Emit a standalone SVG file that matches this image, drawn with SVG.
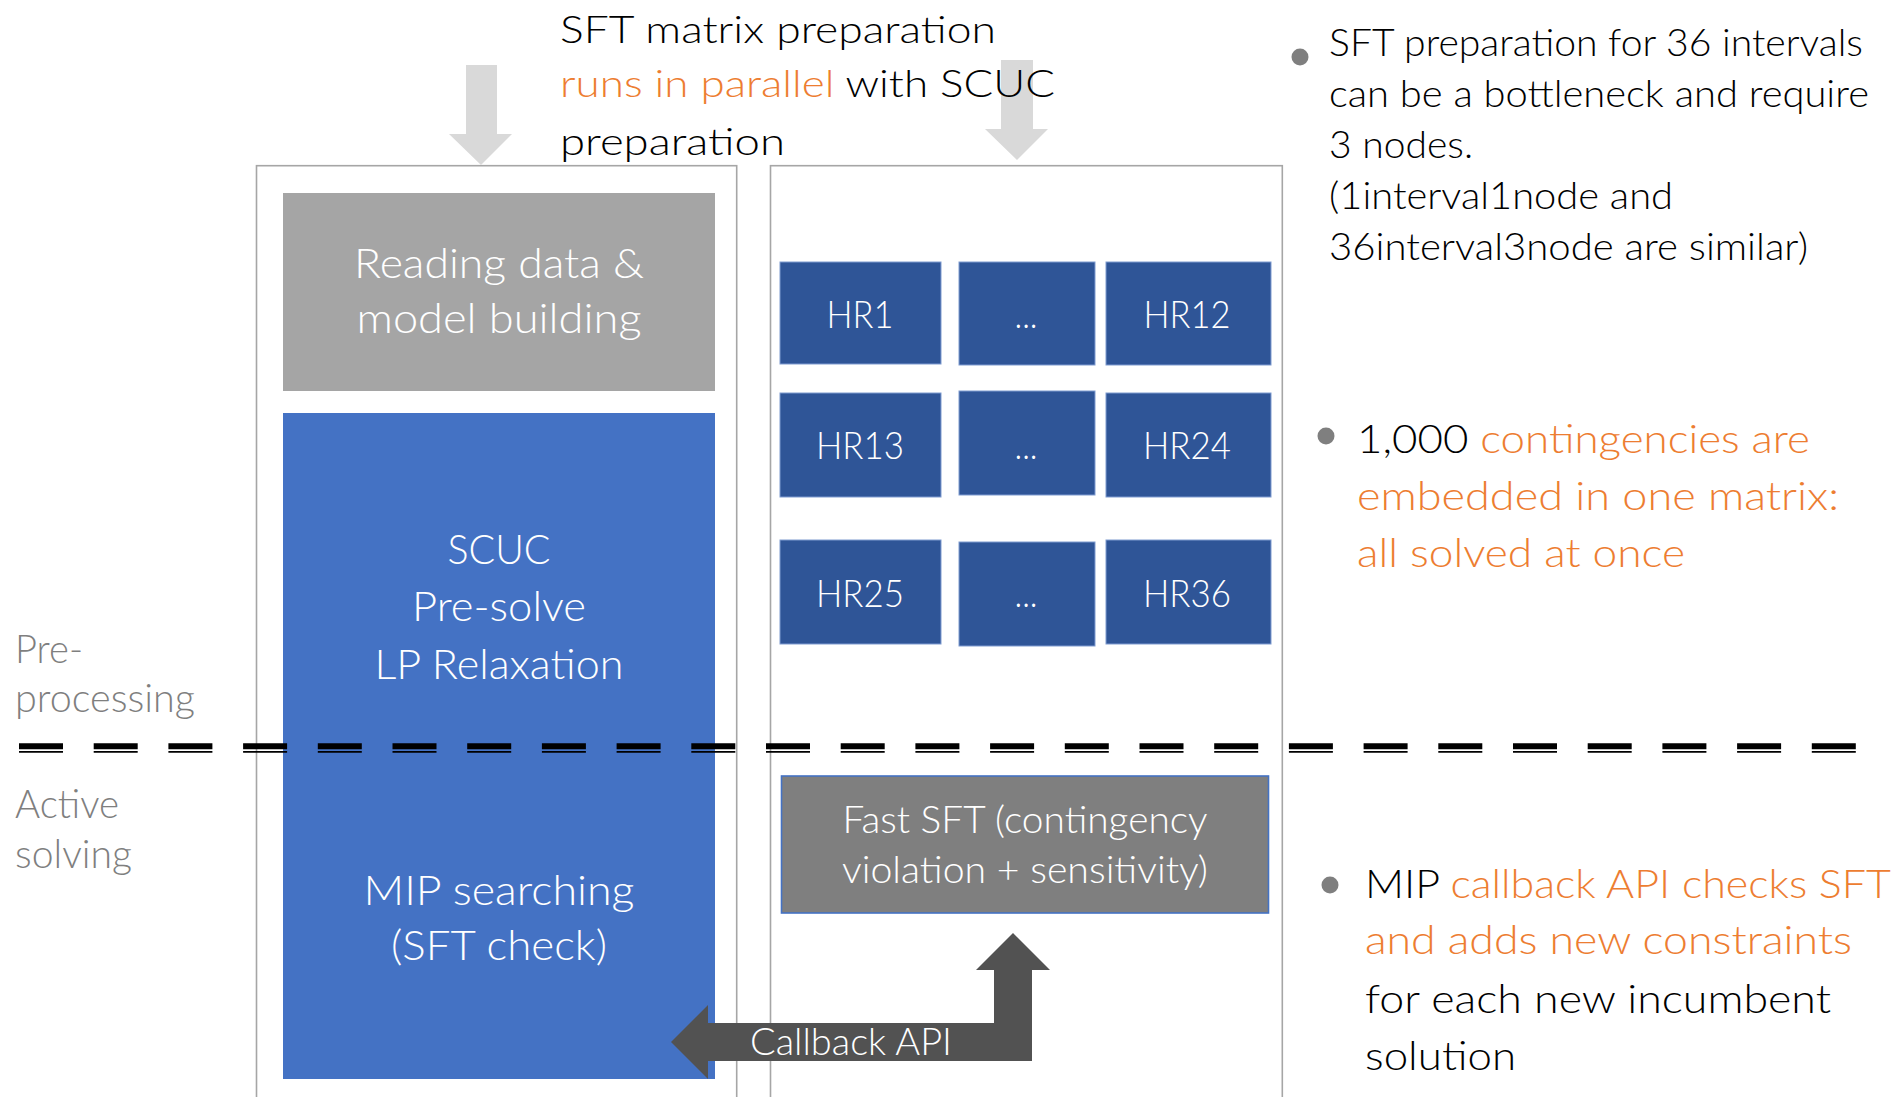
<svg xmlns="http://www.w3.org/2000/svg" width="1903" height="1097" viewBox="0 0 1903 1097">
<style>
text{font-family:Lato,"Open Sans","Liberation Sans",sans-serif;font-weight:300}
.w{fill:#FFFFFF}
.k{fill:#000000}
.o{fill:#ED7D31}
.g{fill:#7F7F7F}
.mid{text-anchor:middle}
.outer{fill:none;stroke:#A6A6A6;stroke-width:1.6}
.hr{fill:#2F5597;stroke:#7F9BD0;stroke-width:1}
.bul{fill:#7F7F7F}
</style>
<rect width="1903" height="1097" fill="#FFFFFF"/>

<g id="outer-left"><rect class="outer" x="256.5" y="165.7" width="480.2" height="960"/></g>
<g id="outer-right"><rect class="outer" x="770.5" y="165.7" width="511.8" height="960"/></g>

<g id="reading">
<rect x="283" y="193" width="432" height="198" fill="#A5A5A5"/>
<text class="w mid" x="499" y="278" font-size="40.5" textLength="290" lengthAdjust="spacingAndGlyphs">Reading data &amp;</text>
<text class="w mid" x="499" y="333" font-size="40.5" textLength="285" lengthAdjust="spacingAndGlyphs">model building</text>
</g>

<g id="scuc">
<rect x="283" y="413" width="432" height="666" fill="#4472C4"/>
<text class="w mid" x="499" y="564" font-size="40.5" textLength="103" lengthAdjust="spacingAndGlyphs">SCUC</text>
<text class="w mid" x="499" y="621" font-size="40.5" textLength="174" lengthAdjust="spacingAndGlyphs">Pre-solve</text>
<text class="w mid" x="499" y="679" font-size="40.5" textLength="249" lengthAdjust="spacingAndGlyphs">LP Relaxation</text>
<text class="w mid" x="499" y="905" font-size="40.5" textLength="271" lengthAdjust="spacingAndGlyphs">MIP searching</text>
<text class="w mid" x="499" y="960" font-size="40.5" textLength="216" lengthAdjust="spacingAndGlyphs">(SFT check)</text>
</g>

<g id="hr1"><rect class="hr" x="780" y="262" width="161" height="102"/><text class="w mid" x="860" y="328" font-size="37" textLength="67" lengthAdjust="spacingAndGlyphs">HR1</text></g>
<g id="hr-dots-1"><rect class="hr" x="959" y="262" width="136" height="103"/><text class="w mid" x="1026" y="328" font-size="37" textLength="23" lengthAdjust="spacingAndGlyphs">...</text></g>
<g id="hr12"><rect class="hr" x="1106" y="262" width="165" height="103"/><text class="w mid" x="1187" y="328" font-size="37" textLength="87" lengthAdjust="spacingAndGlyphs">HR12</text></g>

<g id="hr13"><rect class="hr" x="780" y="393" width="161" height="104"/><text class="w mid" x="860" y="459" font-size="37" textLength="88" lengthAdjust="spacingAndGlyphs">HR13</text></g>
<g id="hr-dots-2"><rect class="hr" x="959" y="391" width="136" height="104"/><text class="w mid" x="1026" y="459" font-size="37" textLength="23" lengthAdjust="spacingAndGlyphs">...</text></g>
<g id="hr24"><rect class="hr" x="1106" y="393" width="165" height="104"/><text class="w mid" x="1187" y="459" font-size="37" textLength="88" lengthAdjust="spacingAndGlyphs">HR24</text></g>

<g id="hr25"><rect class="hr" x="780" y="540" width="161" height="104"/><text class="w mid" x="860" y="607" font-size="37" textLength="88" lengthAdjust="spacingAndGlyphs">HR25</text></g>
<g id="hr-dots-3"><rect class="hr" x="959" y="542" width="136" height="104"/><text class="w mid" x="1026" y="607" font-size="37" textLength="23" lengthAdjust="spacingAndGlyphs">...</text></g>
<g id="hr36"><rect class="hr" x="1106" y="540" width="165" height="104"/><text class="w mid" x="1187" y="607" font-size="37" textLength="88" lengthAdjust="spacingAndGlyphs">HR36</text></g>

<g id="fast-sft">
<rect x="781.5" y="776" width="487" height="137" fill="#7F7F7F" stroke="#4472C4" stroke-width="1.6"/>
<text class="w mid" x="1025" y="833" font-size="37" textLength="365" lengthAdjust="spacingAndGlyphs">Fast SFT (contingency</text>
<text class="w mid" x="1025" y="883" font-size="37" textLength="366" lengthAdjust="spacingAndGlyphs">violation + sensitivity)</text>
</g>

<g id="connectors">
<polygon points="466,65 497,65 497,134 512,134 481,165 449,134 466,134" fill="#D9D9D9"/>
<polygon points="1001,60 1033,60 1033,129 1048,129 1017,160 985,129 1001,129" fill="#D9D9D9"/>
<polygon points="671,1042 708,1005 708,1023 994,1023 994,970 976,970 1013,933 1050,970 1032,970 1032,1061 708,1061 708,1079" fill="#525252"/>
<text class="w" x="750" y="1055" font-size="37" textLength="202" lengthAdjust="spacingAndGlyphs">Callback API</text>
</g>

<g id="divider" fill="none" stroke="#000000" stroke-dasharray="44 30.7">
<line x1="19" y1="746.3" x2="1860" y2="746.3" stroke-width="6"/>
<line x1="19" y1="751.8" x2="1860" y2="751.8" stroke-width="1.8"/>
</g>

<g id="label-phases">
<text class="g" x="15" y="663" font-size="38.5" textLength="68" lengthAdjust="spacingAndGlyphs">Pre-</text>
<text class="g" x="15" y="712" font-size="38.5" textLength="180" lengthAdjust="spacingAndGlyphs">processing</text>
<text class="g" x="15" y="818" font-size="38.5" textLength="104" lengthAdjust="spacingAndGlyphs">Active</text>
<text class="g" x="15" y="868" font-size="38.5" textLength="117" lengthAdjust="spacingAndGlyphs">solving</text>
</g>

<g id="note-top">
<text class="k" x="560" y="43" font-size="37" textLength="436" lengthAdjust="spacingAndGlyphs">SFT matrix preparation</text>
<text class="k" x="560" y="97" font-size="37" textLength="495" lengthAdjust="spacingAndGlyphs"><tspan class="o">runs in parallel</tspan> with SCUC</text>
<text class="k" x="560" y="155" font-size="37" textLength="225" lengthAdjust="spacingAndGlyphs">preparation</text>
</g>

<g id="note-sft">
<circle class="bul" cx="1300" cy="57" r="8.5"/>
<text class="k" x="1329" y="56" font-size="38" textLength="534" lengthAdjust="spacingAndGlyphs">SFT preparation for 36 intervals</text>
<text class="k" x="1329" y="107" font-size="38" textLength="540" lengthAdjust="spacingAndGlyphs">can be a bottleneck and require</text>
<text class="k" x="1329" y="158" font-size="38" textLength="144" lengthAdjust="spacingAndGlyphs">3 nodes.</text>
<text class="k" x="1329" y="209" font-size="38" textLength="344" lengthAdjust="spacingAndGlyphs">(1interval1node and</text>
<text class="k" x="1329" y="260" font-size="38" textLength="479" lengthAdjust="spacingAndGlyphs">36interval3node are similar)</text>
</g>

<g id="note-contingencies">
<circle class="bul" cx="1326" cy="436" r="8.5"/>
<text class="k" x="1357" y="453" font-size="40" textLength="453" lengthAdjust="spacingAndGlyphs">1,000 <tspan class="o">contingencies are</tspan></text>
<text class="o" x="1357" y="510" font-size="40" textLength="482" lengthAdjust="spacingAndGlyphs">embedded in one matrix:</text>
<text class="o" x="1357" y="567" font-size="40" textLength="328" lengthAdjust="spacingAndGlyphs">all solved at once</text>
</g>

<g id="note-callback">
<circle class="bul" cx="1330" cy="885" r="8.5"/>
<text class="k" x="1365" y="898" font-size="40" textLength="526" lengthAdjust="spacingAndGlyphs">MIP <tspan class="o">callback API checks SFT</tspan></text>
<text class="o" x="1365" y="954" font-size="40" textLength="487" lengthAdjust="spacingAndGlyphs">and adds new constraints</text>
<text class="k" x="1365" y="1013" font-size="40" textLength="466" lengthAdjust="spacingAndGlyphs">for each new incumbent</text>
<text class="k" x="1365" y="1070" font-size="40" textLength="151" lengthAdjust="spacingAndGlyphs">solution</text>
</g>
</svg>
